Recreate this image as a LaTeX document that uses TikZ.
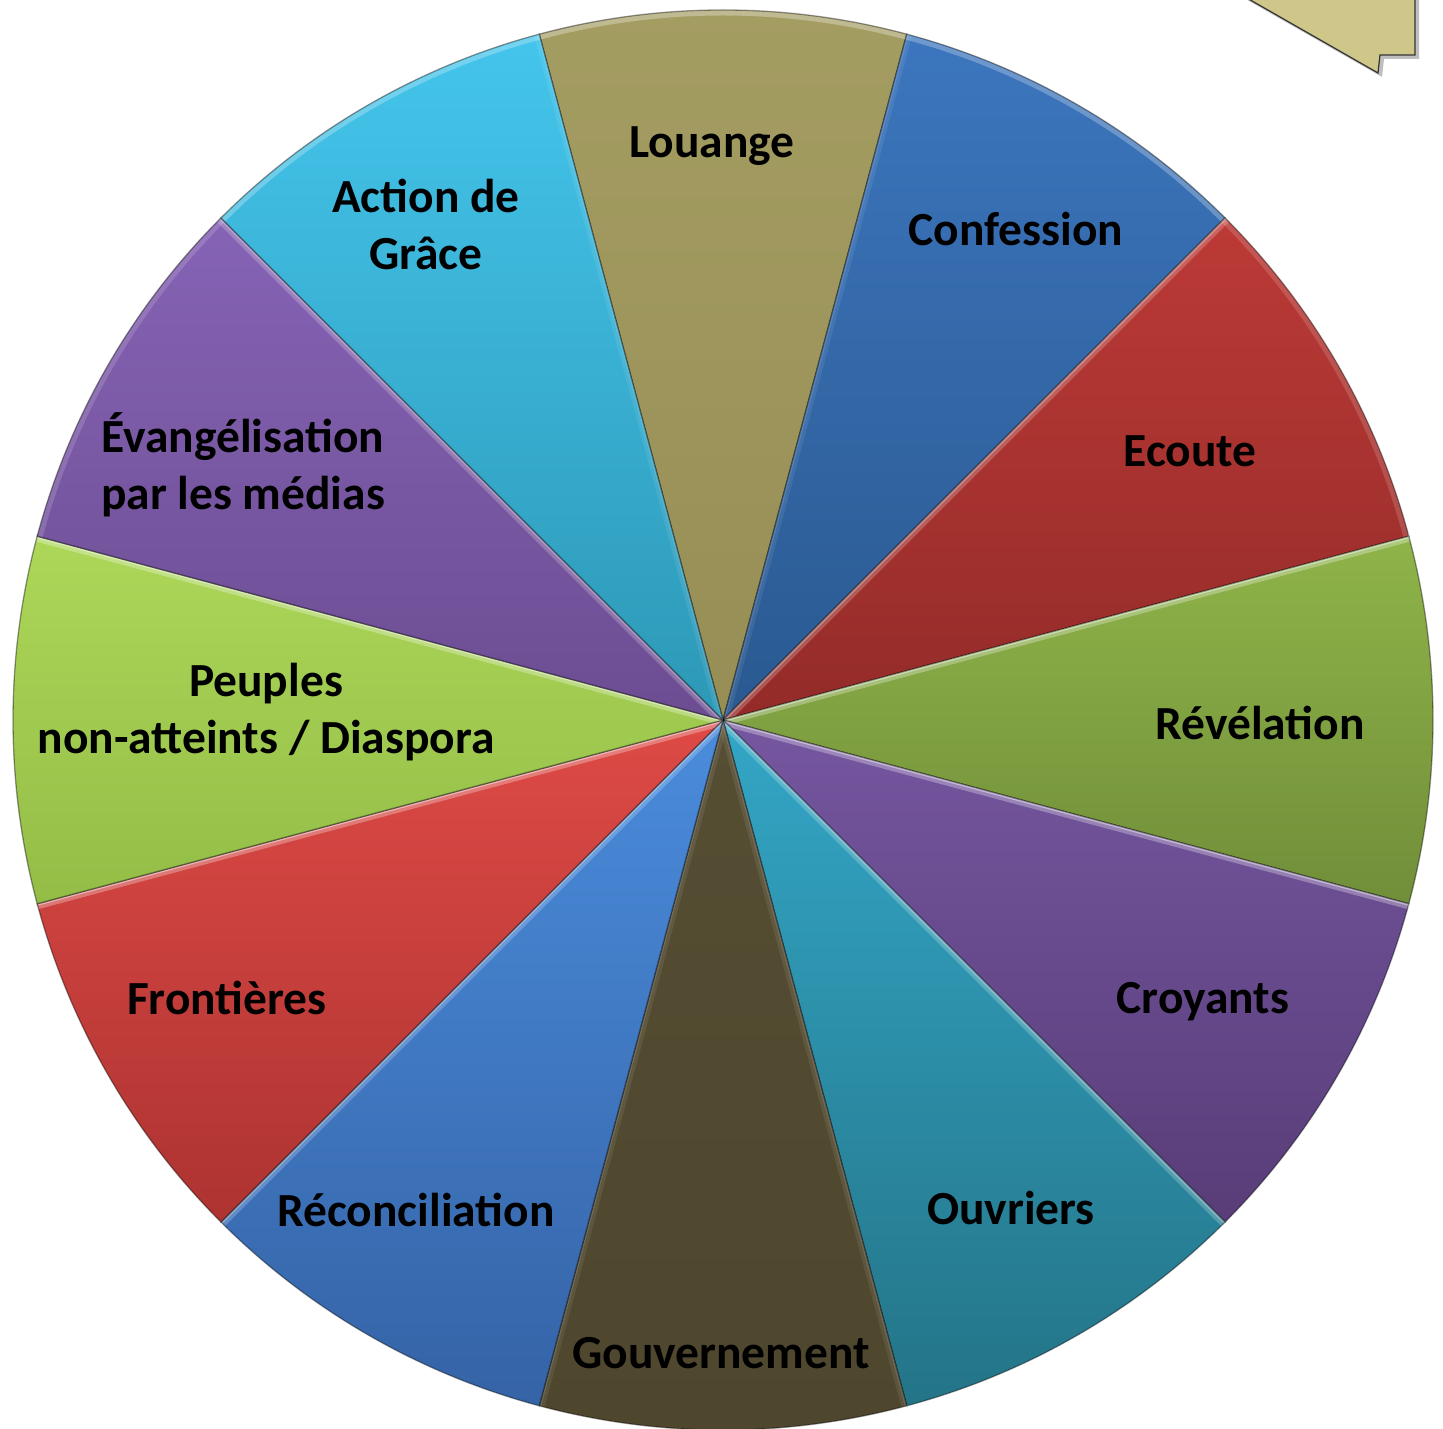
\documentclass[tikz,border=0pt]{standalone}
\usepackage{fontspec}
\setmainfont{Carlito}
\usetikzlibrary{calc}
\definecolor{LouT}{HTML}{A49D62}
\definecolor{LouB}{HTML}{978E55}
\definecolor{ConT}{HTML}{3C76BE}
\definecolor{ConB}{HTML}{2A5990}
\definecolor{EcoT}{HTML}{BC3A36}
\definecolor{EcoB}{HTML}{932B29}
\definecolor{RevT}{HTML}{8FB449}
\definecolor{RevB}{HTML}{718E39}
\definecolor{CroT}{HTML}{7556A0}
\definecolor{CroB}{HTML}{583D78}
\definecolor{OuvT}{HTML}{33A6C6}
\definecolor{OuvB}{HTML}{247487}
\definecolor{GouT}{HTML}{564E33}
\definecolor{GouB}{HTML}{4E462D}
\definecolor{RecT}{HTML}{4A8CDC}
\definecolor{RecB}{HTML}{3563A6}
\definecolor{FroT}{HTML}{DE4A46}
\definecolor{FroB}{HTML}{AD3331}
\definecolor{PeuT}{HTML}{ACD758}
\definecolor{PeuB}{HTML}{94BD47}
\definecolor{EvaT}{HTML}{8663B5}
\definecolor{EvaB}{HTML}{6C4D92}
\definecolor{ActT}{HTML}{44C5EC}
\definecolor{ActB}{HTML}{2D98B6}
\definecolor{pointer}{HTML}{CFC68A}
\begin{document}
\begin{tikzpicture}[x=1pt,y=1pt,
  lbl/.style={font=\fontsize{47.5}{57}\selectfont\bfseries, align=center, text=black, inner sep=0pt},
  sectoredge/.style={black, opacity=0.4, line width=1.3},
  hilite/.style={white, line width=11}]
\useasboundingbox (0,0) rectangle (1443,1429);
\clip (0,0) rectangle (1443,1429);
\coordinate (c) at (723,709);
\def\R{710}
\foreach \a/\ct/\cb in {90/LouT/LouB, 60/ConT/ConB, 30/EcoT/EcoB, 0/RevT/RevB,
  -30/CroT/CroB, -60/OuvT/OuvB, -90/GouT/GouB, -120/RecT/RecB,
  -150/FroT/FroB, 180/PeuT/PeuB, 150/EvaT/EvaB, 120/ActT/ActB} {
  \pgfmathsetmacro{\s}{\a-15}
  \pgfmathsetmacro{\e}{\a+15}
  \shade[top color=\ct, bottom color=\cb] (c) -- ++(\s:\R) arc[start angle=\s, end angle=\e, radius=\R] -- cycle;
  \begin{scope}
    \clip (c) -- ++(\s:\R) arc[start angle=\s, end angle=\e, radius=\R] -- cycle;
    \pgfmathsetmacro{\oa}{0.3*max(0,sin(\a))}
    \pgfmathsetmacro{\ob}{0.3*max(0,sin(\a+105))}
    \pgfmathsetmacro{\oc}{0.3*max(0,sin(\a-105))}
    \draw[hilite, opacity=\oa] (c) ++(\s:\R) arc[start angle=\s, end angle=\e, radius=\R];
    \draw[hilite, opacity=\ob] (c) -- ++(\e:\R);
    \draw[hilite, opacity=\oc] (c) -- ++(\s:\R);
    \pgfmathsetmacro{\ob}{0.45*max(0,sin(\a+105))}
    \pgfmathsetmacro{\oc}{0.45*max(0,sin(\a-105))}
    \draw[white, line width=4, opacity=\ob] (c) -- ++(\e:\R);
    \draw[white, line width=4, opacity=\oc] (c) -- ++(\s:\R);
  \end{scope}
  \draw[sectoredge] (c) -- ++(\s:\R) arc[start angle=\s, end angle=\e, radius=\R] -- cycle;
}
% pointer (top right)
\fill[black, opacity=0.25] (1235,1436) -- (1382,1352) -- (1384,1370) -- (1419,1370) -- (1419,1436) -- cycle;
\filldraw[fill=pointer, draw=black!80, line width=1.2] (1231,1440) -- (1378,1356) -- (1380,1374) -- (1415,1374) -- (1415,1440) -- cycle;
% labels
\node[lbl] (louange) at (712,1283) {Louange};
\node[lbl] (action) at (426,1205) {Action de\\Grâce};
\node[lbl] (confession) at (1016,1200) {Confession};
\node[lbl] (evang) at (243,964) {Évangélisation\\par les médias};
\node[lbl] (ecoute) at (1190,978) {Ecoute};
\node[lbl] (peuples) at (266,717) {Peuples\\non-atteints / Diaspora};
\node[lbl] (revelation) at (1260,706) {Révélation};
\node[lbl] (frontieres) at (227,431) {Frontières};
\node[lbl] (croyants) at (1203,427) {Croyants};
\node[lbl] (reconc) at (416,219) {Réconciliation};
\node[lbl] (ouvriers) at (1011,221) {Ouvriers};
\node[lbl] (gouv) at (721,76) {Gouvernement};
\end{tikzpicture}
\end{document}
